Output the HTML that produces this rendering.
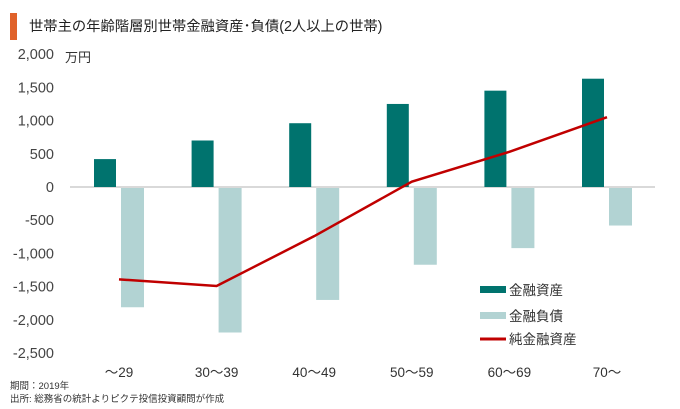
<!DOCTYPE html>
<html><head><meta charset="utf-8"><style>
body{margin:0;background:#fff;}
svg{display:block;font-family:"Liberation Sans","Noto Sans CJK JP",sans-serif;}
</style></head><body>
<svg id="c" width="680" height="409" viewBox="0 0 680 409">
<rect x="10" y="13" width="7" height="27" fill="#e0622a"/>
<text x="29" y="31" font-size="14.3" fill="#222">世帯主の年齢階層別世帯金融資産･負債(2人以上の世帯)</text>
<text x="65" y="62" font-size="13" fill="#333">万円</text>
<g id="yt"></g>
<line x1="70" y1="187" x2="655" y2="187" stroke="#d9d9d9" stroke-width="2"/>
<g id="bars"></g>
<g id="xl"></g>
<g>
<rect x="480" y="286" width="26" height="7" fill="#00736e"/>
<text x="509" y="295" font-size="13.5" fill="#333">金融資産</text>
<rect x="480" y="312" width="26" height="7" fill="#b2d3d3"/>
<text x="509" y="321" font-size="13.5" fill="#333">金融負債</text>
<line x1="480" y1="339" x2="506" y2="339" stroke="#c00000" stroke-width="3"/>
<text x="509" y="344" font-size="13.5" fill="#333">純金融資産</text>
</g>
<text x="10" y="389" font-size="9.5" fill="#333">期間：2019年</text>
<text x="10" y="402" font-size="9.5" fill="#333">出所: 総務省の統計よりピクテ投信投資顧問が作成</text>
</svg>
<script>
const categories=["～29","30～39","40～49","50～59","60～69","70～"];
const assets=[420,700,960,1250,1450,1630];
const liabilities=[-1810,-2190,-1700,-1170,-920,-580];
const net=[-1390,-1490,-740,80,530,1050];
const yTicks=[2000,1500,1000,500,0,-500,-1000,-1500,-2000,-2500];
const NS="http://www.w3.org/2000/svg";
function y(v){return 187-v*0.06644;}
function x(i){return 119+i*97.6;}
function mk(t,a,p){const e=document.createElementNS(NS,t);for(const k in a)e.setAttribute(k,a[k]);p.appendChild(e);return e;}
const yt=document.getElementById('yt');
yTicks.forEach(v=>{const t=mk('text',{x:54,y:y(v)+5,'font-size':14.5,fill:'#444','text-anchor':'end'},yt);
t.textContent=v.toLocaleString('en-US');

});
const b=document.getElementById('bars');
categories.forEach((c,i)=>{
const r=mk('rect',{x:x(i)-25,y:y(assets[i]),width:22,height:y(0)-y(assets[i]),fill:'#00736e'},b);


const r2=mk('rect',{x:x(i)+2,y:y(0)+1,width:23,height:y(liabilities[i])-y(0)-1,fill:'#b2d3d3'},b);


const t=mk('text',{x:x(i),y:377,'font-size':13.5,fill:'#333','text-anchor':'middle'},document.getElementById('xl'));
t.textContent=c;


});
const pl=mk('polyline',{points:net.map((v,i)=>x(i)+','+y(v)).join(' '),fill:'none',stroke:'#c00000','stroke-width':2.5},document.getElementById('c'));


</script>
</body></html>
